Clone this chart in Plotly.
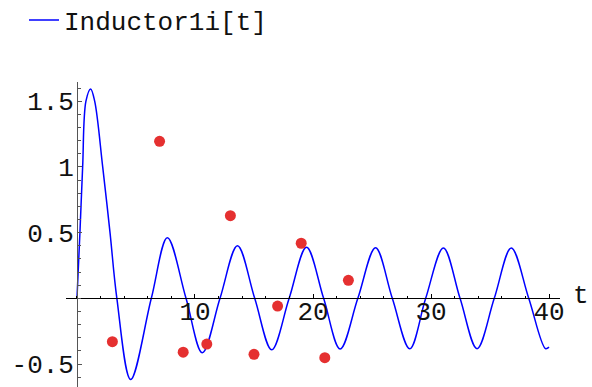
import plotly.graph_objects as go

# Inductor current i(t): readings at extrema, zero crossings and a few shoulders
t_curve = [0.0, 0.25, 0.48, 0.76, 1.16, 1.5, 2.18, 2.8, 3.38, 4.55, 6.3, 7.66, 9.24,
           10.62, 12.12, 13.6, 15.06, 16.5, 17.98, 19.45, 20.9, 22.3, 23.8, 25.3,
           26.72, 28.2, 29.55, 31.05, 32.46, 33.9, 35.36, 36.8, 38.28, 39.7, 40.0]
i_curve = [0.0, 0.5, 1.0, 1.5, 1.593, 1.5, 1.0, 0.5, 0.0, -0.618, 0.0, 0.461, 0.0,
           -0.415, 0.0, 0.40, 0.0, -0.392, 0.0, 0.388, 0.0, -0.386, 0.0, 0.385,
           0.0, -0.384, 0.0, 0.383, 0.0, -0.383, 0.0, 0.383, 0.0, -0.383, -0.372]

# Sampled measurements
t_pts = [3, 7, 9, 11, 13, 15, 17, 19, 21, 23]
i_pts = [-0.33, 1.195, -0.41, -0.348, 0.629, -0.426, -0.059, 0.419, -0.452, 0.137]

x_ticks = [10, 20, 30, 40]
y_ticks = [-0.5, 0.5, 1, 1.5]
y_labels = ["-0.5", "0.5", "1", "1.5"]

x_range = [-0.93, 40.93]
y_range = [-0.675, 1.646]

font = dict(family="Liberation Mono, Courier New, monospace", size=26, color="#111")

W, H = 592, 387
M = dict(l=66, r=32, t=82, b=0)
plot_w = W - M["l"] - M["r"]
plot_h = H - M["t"] - M["b"]

fig = go.Figure()
fig.add_trace(go.Scatter(
    x=t_curve, y=i_curve, mode="lines", name="Inductor1i[t]",
    line=dict(color="#0000ff", width=1.5, shape="spline", smoothing=1.0),
))
fig.add_trace(go.Scatter(
    x=t_pts, y=i_pts, mode="markers", showlegend=False,
    marker=dict(color="#e53030", size=11),
))
# empty trace so the label-only axes get rendered
fig.add_trace(go.Scatter(x=[], y=[], xaxis="x2", yaxis="y2",
                         showlegend=False, hoverinfo="skip"))

# axes cross at the origin
x0_frac = (0 - x_range[0]) / (x_range[1] - x_range[0])
y0_frac = (0 - y_range[0]) / (y_range[1] - y_range[0])

# axis lines with ticks
axis_common = dict(showgrid=False, zeroline=False, automargin=False, anchor="free",
                   showline=True, linewidth=1.2, ticks="inside", ticklen=4)
# label-only companions, offset slightly from the axis lines
label_common = dict(showgrid=False, zeroline=False, automargin=False, anchor="free",
                    showline=False, ticks="", showticklabels=True)

fig.update_layout(
    width=W, height=H,
    margin=dict(**M, autoexpand=False),
    paper_bgcolor="white", plot_bgcolor="white",
    font=font,
    showlegend=True,
    legend=dict(xref="container", yref="container", x=24 / W, y=1 - 20 / H,
                xanchor="left", yanchor="middle", font=font,
                bgcolor="rgba(0,0,0,0)", itemwidth=30),
    xaxis=dict(
        **axis_common, range=x_range, position=y0_frac,
        linecolor="#000", tickcolor="#000", tickvals=x_ticks, showticklabels=False,
        minor=dict(dtick=2, tick0=0, ticks="inside", ticklen=2.5, tickcolor="#000"),
    ),
    xaxis2=dict(
        **label_common, overlaying="x", range=x_range,
        position=y0_frac + 5 / plot_h, tickvals=x_ticks,
    ),
    yaxis=dict(
        **axis_common, range=y_range, position=x0_frac,
        linecolor="#555", tickcolor="#555", tickvals=y_ticks, showticklabels=False,
        minor=dict(dtick=0.1, tick0=0, ticks="inside", ticklen=2.5, tickcolor="#555"),
    ),
    yaxis2=dict(
        **label_common, overlaying="y", range=y_range,
        position=x0_frac - 3 / plot_w, tickvals=y_ticks, ticktext=y_labels,
    ),
    annotations=[dict(x=x_range[1], y=0, xref="x", yref="y", text="t",
                      showarrow=False, xanchor="left", yanchor="middle",
                      xshift=11, yshift=2, font=font)],
)

fig.write_html("out.html")
